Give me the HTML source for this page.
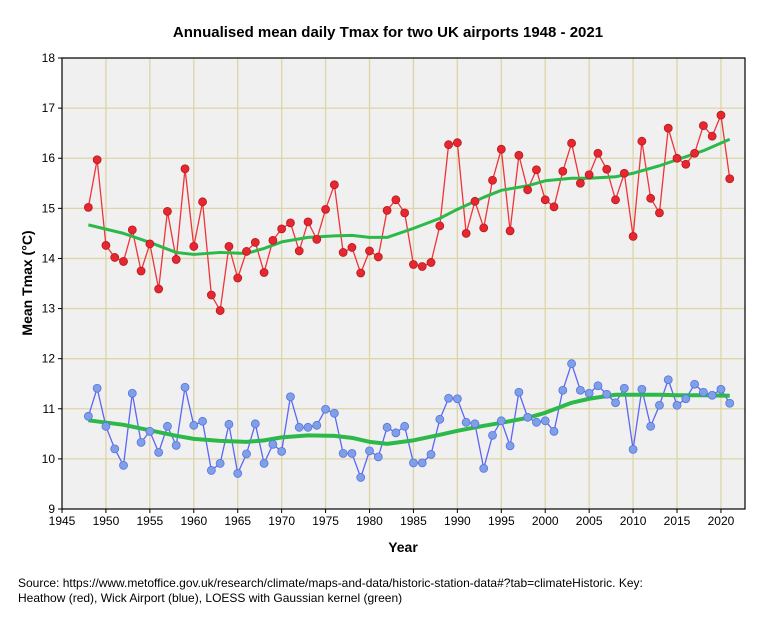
<!DOCTYPE html>
<html><head><meta charset="utf-8"><style>
body{margin:0;background:#fff;font-family:"Liberation Sans",sans-serif}
svg{display:block}
</style></head><body>
<svg id="chart" width="763" height="620" xmlns="http://www.w3.org/2000/svg" font-family="Liberation Sans, sans-serif">
<text x="388" y="37" text-anchor="middle" font-size="15" font-weight="bold">Annualised mean daily Tmax for two UK airports 1948 - 2021</text>
<rect x="62" y="58" width="683" height="451" fill="#f0f0f0"/>
<g id="grid"></g>
<g id="series"></g>
<rect x="62" y="58" width="683" height="451" fill="none" stroke="#000" stroke-width="1.2"/>
<g id="ticks"></g>
<text x="403" y="552" text-anchor="middle" font-size="14" font-weight="bold">Year</text>
<text transform="translate(32,283) rotate(-90)" text-anchor="middle" font-size="14" font-weight="bold">Mean Tmax (°C)</text>
<text font-size="12" x="18" y="587">Source: https://www.metoffice.gov.uk/research/climate/maps-and-data/historic-station-data#?tab=climateHistoric. Key:</text>
<text font-size="12" x="18" y="602">Heathow (red), Wick Airport (blue), LOESS with Gaussian kernel (green)</text>
</svg>
<script>
const heathrow=[15.02,15.97,14.26,14.02,13.94,14.57,13.75,14.29,13.39,14.94,13.98,15.79,14.24,15.13,13.27,12.96,14.24,13.61,14.14,14.32,13.72,14.36,14.59,14.71,14.15,14.73,14.38,14.98,15.47,14.12,14.22,13.71,14.15,14.03,14.96,15.17,14.91,13.88,13.84,13.92,14.65,16.27,16.31,14.50,15.14,14.61,15.56,16.18,14.55,16.06,15.37,15.77,15.17,15.03,15.74,16.30,15.50,15.67,16.10,15.78,15.17,15.70,14.44,16.34,15.20,14.91,16.60,16.00,15.88,16.10,16.65,16.44,16.86,15.59];
const wick=[10.85,11.41,10.65,10.20,9.87,11.31,10.33,10.55,10.13,10.65,10.27,11.43,10.67,10.75,9.77,9.91,10.69,9.71,10.10,10.70,9.91,10.29,10.15,11.24,10.63,10.63,10.67,10.99,10.91,10.11,10.11,9.63,10.16,10.04,10.63,10.52,10.65,9.92,9.92,10.09,10.79,11.21,11.20,10.73,10.70,9.81,10.47,10.76,10.26,11.33,10.83,10.73,10.76,10.55,11.37,11.90,11.37,11.31,11.46,11.29,11.12,11.41,10.19,11.39,10.65,11.07,11.58,11.07,11.20,11.49,11.33,11.27,11.39,11.11];
const loessYears=[1948,1952,1955,1958,1960,1963,1966,1968,1970,1973,1976,1978,1980,1982,1985,1988,1990,1993,1995,1998,2000,2003,2005,2008,2010,2013,2015,2018,2021];
const heathrowLoess=[14.67,14.5,14.32,14.12,14.08,14.12,14.1,14.2,14.33,14.42,14.45,14.46,14.42,14.42,14.6,14.8,14.98,15.22,15.36,15.45,15.55,15.6,15.6,15.63,15.7,15.85,15.97,16.15,16.38];
const wickLoess=[10.77,10.68,10.57,10.46,10.4,10.36,10.34,10.37,10.43,10.47,10.46,10.42,10.34,10.3,10.37,10.48,10.56,10.66,10.72,10.82,10.92,11.12,11.2,11.28,11.28,11.28,11.27,11.27,11.26];
const xTicks=[1945,1950,1955,1960,1965,1970,1975,1980,1985,1990,1995,2000,2005,2010,2015,2020];
const yTicks=[9,10,11,12,13,14,15,16,17,18];
const startYear=1948;
const NS='http://www.w3.org/2000/svg';
function xs(y){return 62+(y-1945)*8.786;}
function ys(v){return 509-(v-9)*50.11;}
function mk(tag,attrs,parent){const e=document.createElementNS(NS,tag);for(const k in attrs)e.setAttribute(k,attrs[k]);parent.appendChild(e);return e;}
const grid=document.getElementById('grid'),ticks=document.getElementById('ticks'),ser=document.getElementById('series');
xTicks.forEach(t=>{const x=xs(t);
 if(t>1945){const l=mk('line',{x1:x,y1:58,x2:x,y2:509,stroke:'#ddd5a8','stroke-width':1.3},grid);
 
 }
 mk('line',{x1:x,y1:509,x2:x,y2:513,stroke:'#000'},ticks);
 const tx=mk('text',{x:x,y:525,'text-anchor':'middle','font-size':12},ticks);tx.textContent=t;
 
 });
yTicks.forEach(t=>{const y=ys(t);
 if(t>9){const l=mk('line',{x1:62,y1:y,x2:745,y2:y,stroke:'#ddd5a8','stroke-width':1.3},grid);
 
 }
 mk('line',{x1:58,y1:y,x2:62,y2:y,stroke:'#000'},ticks);
 const tx=mk('text',{x:55,y:y+4,'text-anchor':'end','font-size':12},ticks);tx.textContent=t;
 
 });
function drawSeries(vals,line,fill,name){
 const pts=vals.map((v,i)=>xs(startYear+i)+','+ys(v)).join(' ');
 const pl=mk('polyline',{points:pts,fill:'none',stroke:line,'stroke-width':1.3},ser);
 
 
 return pl;}
function drawLoess(vals,name,w){
 const pts=vals.map((v,i)=>xs(loessYears[i])+','+ys(v)).join(' ');
 const pl=mk('polyline',{points:pts,fill:'none',stroke:'#2db84a','stroke-width':w,'stroke-linejoin':'round'},ser);
 
 }
function drawPoints(vals,line,fill,name){
 vals.forEach((v,i)=>{const c=mk('circle',{cx:xs(startYear+i),cy:ys(v),r:4,fill:fill,stroke:line,'stroke-width':0.8},ser);
 
 });}
drawSeries(heathrow,'#f0333b','#e8252e','heathrow');
drawSeries(wick,'#5a66f5','#7fa0e6','wick');
drawLoess(heathrowLoess,'heathrow-loess',3);
drawLoess(wickLoess,'wick-loess',4);
drawPoints(heathrow,'#b01c22','#e8262f','heathrow');
drawPoints(wick,'#5a70e8','#7ea0e4','wick');
</script>
</body></html>
